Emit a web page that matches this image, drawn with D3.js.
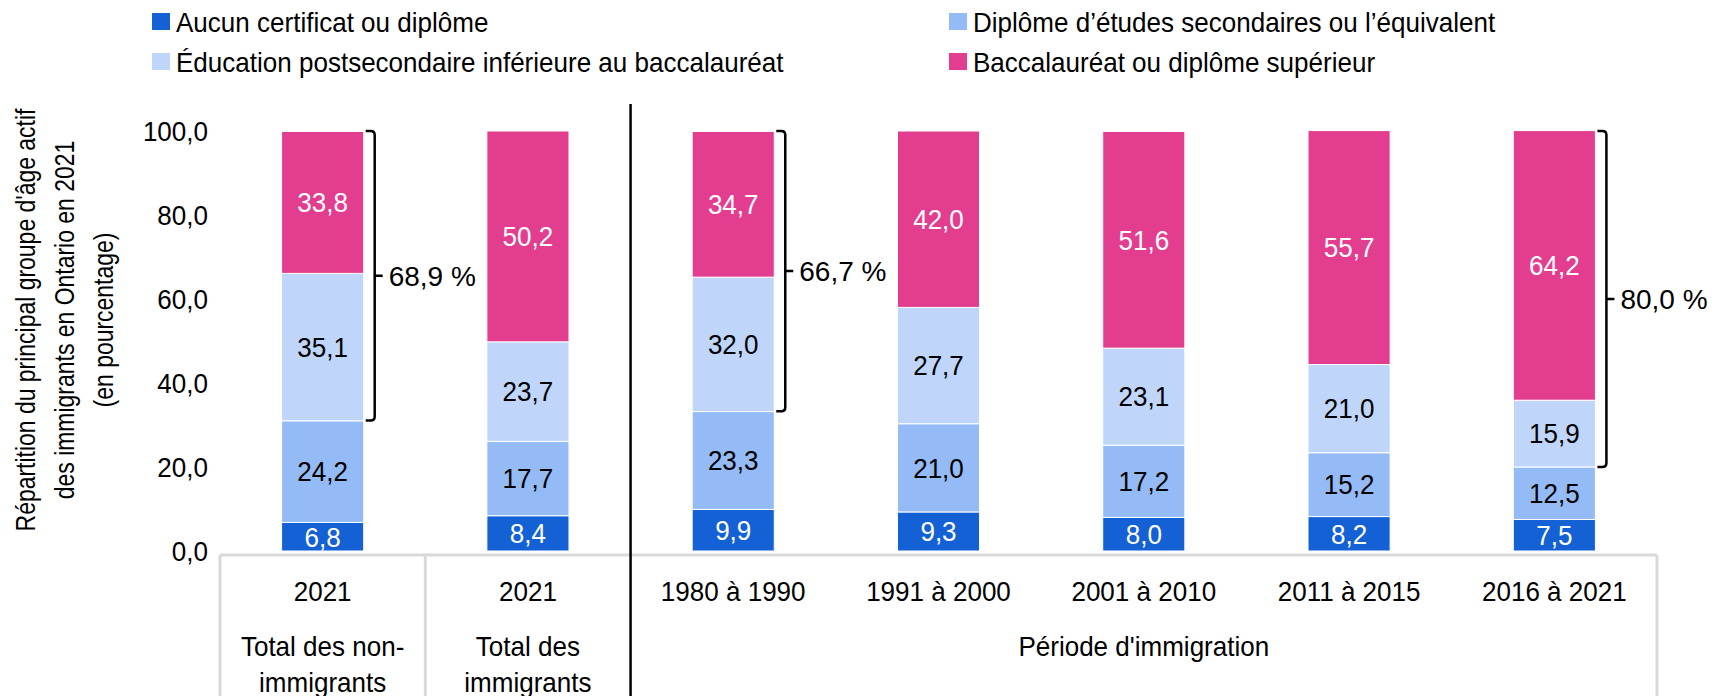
<!DOCTYPE html>
<html>
<head>
<meta charset="utf-8">
<script src="https://cdn.jsdelivr.net/npm/d3@7"></script>
<style>
  body { margin: 0; background: #fff; }
  svg text { font-family: "Liberation Sans Narrow", "Arial Narrow", "Liberation Sans", sans-serif; }
</style>
</head>
<body>
<svg id="chart" width="1717" height="696"></svg>
<script>
// data
var categories = ["2021", "2021", "1980 à 1990", "1991 à 2000", "2001 à 2010", "2011 à 2015", "2016 à 2021"];
var groupLabels = [["Total des non-", "immigrants"], ["Total des", "immigrants"]];
var periodLabel = "Période d'immigration";
var seriesNames = ["Aucun certificat ou diplôme", "Diplôme d’études secondaires ou l’équivalent",
                   "Éducation postsecondaire inférieure au baccalauréat", "Baccalauréat ou diplôme supérieur"];
var aucun = [6.8, 8.4, 9.9, 9.3, 8.0, 8.2, 7.5];
var secondaire = [24.2, 17.7, 23.3, 21.0, 17.2, 15.2, 12.5];
var postsec = [35.1, 23.7, 32.0, 27.7, 23.1, 21.0, 15.9];
var bacc = [33.8, 50.2, 34.7, 42.0, 51.6, 55.7, 64.2];
var yTicks = [0, 20, 40, 60, 80, 100];
// brackets: category index, total postsecondary share
var bracketCats = [0, 2, 6];
var bracketTotals = [68.9, 66.7, 80.0];

var colors = ["#1461d6", "#94bbf5", "#bfd6fa", "#e33d90"];
var labelColors = ["#fff", "#000", "#000", "#fff"];
var fr = d3.formatLocale({decimal: ",", thousands: " ", grouping: [3], currency: ["", " $"]});
var fmt = fr.format(".1f");

var svg = d3.select("#chart");
var fontSize = 28;
var sx = 0.93; // the original font is a bit condensed

// text helper: condensed text placed at (x,y)
function label(parent, xx, yy, str, anchor, scale){
  return parent.append("text")
     .attr("transform", "translate(" + xx + "," + yy + ") scale(" + (scale || sx) + ",1)")
     .attr("dy", "0.35em")
     .attr("text-anchor", anchor || "middle")
     .attr("font-size", fontSize)
     .text(str);
}

var x = d3.scaleBand()
          .domain(d3.range(categories.length))
          .range([220, 1657])
          .paddingInner(0.6)
          .paddingOuter(0.3);
var y = d3.scaleLinear().domain([0, 100]).range([551, 131]);

var seriesValues = [aucun, secondaire, postsec, bacc];
var rows = categories.map(function(c, i){
  return {i: i, s0: aucun[i], s1: secondaire[i], s2: postsec[i], s3: bacc[i]};
});
var stacked = d3.stack().keys(["s0", "s1", "s2", "s3"])(rows);

// legend
var legendPos = [[152, 22], [949, 22], [152, 62], [949, 62]];
seriesNames.forEach(function(name, k){
  var g = svg.append("g").attr("transform", "translate(" + legendPos[k][0] + "," + legendPos[k][1] + ")");
  g.append("rect").attr("x", 0).attr("y", -9).attr("width", 18).attr("height", 17).attr("fill", colors[k]);
  label(g, 24, 0, name, "start");
});

// y axis labels
yTicks.forEach(function(t){
  label(svg, 208, y(t), fmt(t), "end");
});

var titleLines = ["Répartition du principal groupe d'âge actif", "des immigrants en Ontario en 2021", "(en pourcentage)"];
var title = svg.append("g")
   .attr("transform", "translate(64,320) rotate(-90)");
titleLines.forEach(function(t, i){
  label(title, 0, (i - 1) * 39, t, "middle", 0.82);
});

// bars
var layers = svg.append("g").selectAll("g")
   .data(stacked)
   .enter().append("g")
   .attr("fill", function(d, k){ return colors[k]; });

layers.selectAll("rect")
   .data(function(d){ return d; })
   .enter().append("rect")
   .attr("x", function(d){ return x(d.data.i); })
   .attr("width", x.bandwidth())
   .attr("y", function(d){ return y(d[1]); })
   .attr("height", function(d){ return y(d[0]) - y(d[1]); })
   .attr("stroke", "#fff")
   .attr("stroke-width", 1);

layers.selectAll("text")
   .data(function(d, k){ return d.map(function(p){ return {p: p, k: k}; }); })
   .enter().append("text")
   .attr("transform", function(d){
      return "translate(" + (x(d.p.data.i) + x.bandwidth() / 2) + "," + y((d.p[0] + d.p[1]) / 2) + ") scale(" + sx + ",1)";
   })
   .attr("dy", "0.35em")
   .attr("text-anchor", "middle")
   .attr("font-size", fontSize)
   .attr("fill", function(d){ return labelColors[d.k]; })
   .text(function(d){ return fmt(seriesValues[d.k][d.p.data.i]); });

// category box
var gray = "#d9d9d9";
var boxTop = y(0) + 4;
var left = x.range()[0], right = x.range()[1];
var sep1 = x(1) - x.step() * x.paddingInner() / 2 - x.bandwidth() * 0 - (x.step() - x.bandwidth()) / 2 + x.step() * x.paddingInner() / 2;
var divX = x(2) - (x.step() - x.bandwidth()) / 2;
sep1 = x(1) - (x.step() - x.bandwidth()) / 2;
svg.append("line").attr("x1", left).attr("x2", right).attr("y1", boxTop).attr("y2", boxTop)
   .attr("stroke", gray).attr("stroke-width", 3);
[left, sep1, right].forEach(function(xx){
  svg.append("line").attr("x1", xx).attr("x2", xx).attr("y1", boxTop).attr("y2", 696)
     .attr("stroke", gray).attr("stroke-width", 3);
});
svg.append("line").attr("x1", divX).attr("x2", divX).attr("y1", 104).attr("y2", 696)
   .attr("stroke", "#000").attr("stroke-width", 2.5);

categories.forEach(function(c, i){
  label(svg, x(i) + x.bandwidth() / 2, 591, c);
});
groupLabels.forEach(function(lines, i){
  lines.forEach(function(t, j){
    label(svg, x(i) + x.bandwidth() / 2, 646 + j * 36, t);
  });
});
label(svg, (divX + right) / 2, 646, periodLabel);

// brackets
bracketCats.forEach(function(ci, n){
  var total = bracketTotals[n];
  var bx = x(ci) + x.bandwidth() + 11;
  var yt = y(100), yb = y(100 - total), ym = (yt + yb) / 2;
  var r = 4;
  var path = "M" + (bx - 9) + "," + yt + " L" + (bx - r) + "," + yt +
             " Q" + bx + "," + yt + " " + bx + "," + (yt + r) +
             " L" + bx + "," + (yb - r) +
             " Q" + bx + "," + yb + " " + (bx - r) + "," + yb +
             " L" + (bx - 9) + "," + yb +
             " M" + bx + "," + ym + " L" + (bx + 8) + "," + ym;
  svg.append("path").attr("d", path).attr("fill", "none")
     .attr("stroke", "#000").attr("stroke-width", 2.5);
  label(svg, bx + 14, ym, fmt(total) + " %", "start", 1.0);
});
</script>
</body>
</html>
